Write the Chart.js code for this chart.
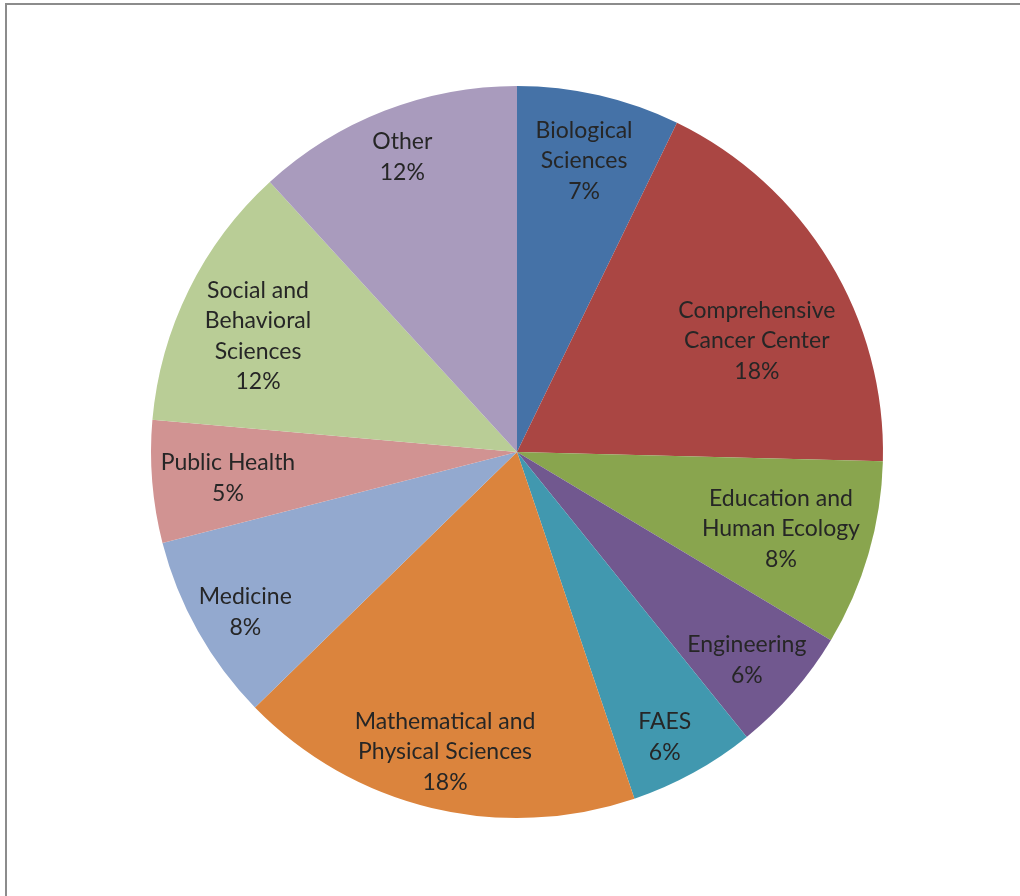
<!DOCTYPE html>
<html>
<head>
<meta charset="utf-8">
<script src="https://cdn.jsdelivr.net/npm/chart.js@4.4.1/dist/chart.umd.min.js"></script>
<style>
  html, body { margin: 0; padding: 0; background: #fff; }
  #wrap { position: relative; width: 1020px; height: 896px; overflow: hidden; }
  #frame { position: absolute; left: 5px; top: 3px; width: 1100px; height: 1000px;
           border: 2px solid #8c8c8c; box-sizing: border-box; }
  canvas { position: absolute; left: 0; top: 0; }
</style>
</head>
<body>
<div id="wrap">
  <div id="frame"></div>
  <canvas id="myChart" width="1020" height="896"></canvas>
</div>
<script>
// slice names (split into the lines shown in the picture)
const categories = [
    ['Biological', 'Sciences'],
    ['Comprehensive', 'Cancer Center'],
    ['Education and', 'Human Ecology'],
    ['Engineering'],
    ['FAES'],
    ['Mathematical and', 'Physical Sciences'],
    ['Medicine'],
    ['Public Health'],
    ['Social and', 'Behavioral', 'Sciences'],
    ['Other']
];
// share of each unit, percent
const shares = [7.2, 18.2, 8.2, 5.6, 5.6, 17.9, 8.3, 5.4, 11.8, 11.8];

const colors = ['#4572A7', '#AA4643', '#89A54E', '#71588F', '#4198AF',
                '#DB843D', '#93A9CF', '#D19392', '#B9CD96', '#A99BBD'];

// where each label sits inside its slice: fraction of radius, angle nudge (deg)
const labelRadius = [0.817, 0.722, 0.751, 0.847, 0.877, 0.842, 0.862, 0.793, 0.775, 0.865];
const labelNudge  = [0, 6.5, 0, 1.1, 1.4, 0, -1.2, -0.5, -2.2, 0];

const sliceLabels = {
    id: 'sliceLabels',
    afterDatasetsDraw(chart) {
        const ctx = chart.ctx;
        const meta = chart.getDatasetMeta(0);
        const data = chart.data.datasets[0].data;
        const total = data.reduce((a, b) => a + b, 0);
        ctx.save();
        ctx.font = '23px Lato, "Open Sans", sans-serif';
        ctx.fillStyle = '#262626';
        ctx.textAlign = 'center';
        ctx.textBaseline = 'middle';
        const lineH = 30.5;
        meta.data.forEach((arc, i) => {
            const p = arc.getProps(['x', 'y', 'startAngle', 'endAngle', 'outerRadius'], true);
            const mid = (p.startAngle + p.endAngle) / 2 + labelNudge[i] * Math.PI / 180;
            const r = p.outerRadius * labelRadius[i];
            const cx = p.x + Math.cos(mid) * r;
            const cy = p.y + Math.sin(mid) * r;
            const lines = chart.data.labels[i].concat([Math.round(data[i] / total * 100) + '%']);
            const top = cy - (lines.length - 1) * lineH / 2;
            lines.forEach((t, k) => ctx.fillText(t, cx, top + k * lineH));
        });
        ctx.restore();
    }
};

new Chart(document.getElementById('myChart'), {
    type: 'pie',
    data: {
        labels: categories,
        datasets: [{
            data: shares,
            backgroundColor: colors,
            borderWidth: 0
        }]
    },
    options: {
        responsive: false,
        animation: false,
        layout: { padding: { left: 151, right: 137, top: 86, bottom: 78 } },
        plugins: {
            legend: { display: false },
            tooltip: { enabled: false }
        }
    },
    plugins: [sliceLabels]
});
</script>
</body>
</html>
